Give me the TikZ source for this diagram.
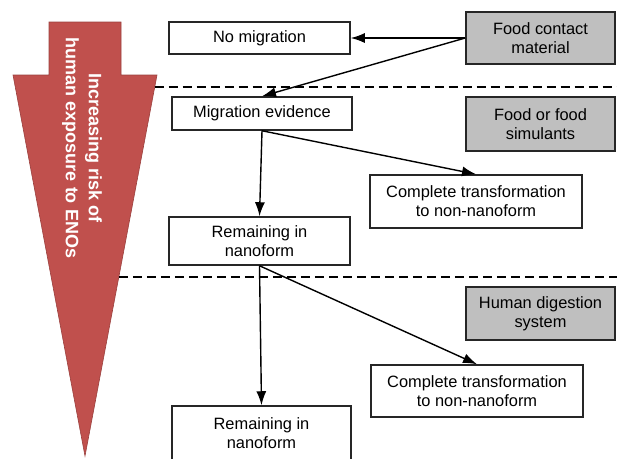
\documentclass[tikz,border=0pt]{standalone}
\usepackage{fontspec}
\setmainfont{Liberation Sans}
\usepackage{xcolor}
\usepackage{tikz}
\usetikzlibrary{arrows.meta}
\usetikzlibrary{positioning}
\definecolor{riskred}{HTML}{C0504D}
\definecolor{stagegray}{HTML}{BFBFBF}
\tikzstyle{outcome} = [rectangle, draw=black!85, line width=1.5pt, fill=white, align=center, inner sep=0pt, font=\fontsize{16.4}{19}\selectfont]
\tikzstyle{stage} = [outcome, fill=stagegray]
\tikzstyle{arrow} = [line width=1.4pt,-{Latex[length=14pt,width=10pt]}]
\tikzstyle{divider} = [line width=1.4pt, dash pattern=on 9pt off 5pt]

\begin{document}
\begin{tikzpicture}[x=1pt,y=-1pt]
    \useasboundingbox (0,0) rectangle (617,458);
    % risk arrow
    \draw[fill=riskred, draw=riskred!80!black, line width=0.6pt] (49,22) -- (121,22) -- (121,75) -- (157,75) -- (85,456) -- (13,75) -- (49,75) -- cycle;
    \node(risk)[rotate=-90, text=white, align=center, font=\bfseries\fontsize{18}{23}\selectfont] at (82,148) {Increasing risk of\\human exposure to ENOs};
    \draw[divider] (154.7,87) -- (617,87);
    \draw[divider] (118.8,277) -- (617,277);
    % stages
    \node(fcm)[stage, minimum width=149pt, minimum height=52pt] at (540.5,38) {Food contact\\material};
    \node(food)[stage, minimum width=149pt, minimum height=54pt] at (540.5,124) {Food or food\\simulants};
    \node(human)[stage, minimum width=149pt, minimum height=53pt] at (540.5,313.5) {Human digestion\\system};
    % outcomes
    \node(nomig)[outcome, minimum width=181pt, minimum height=32pt] at (259.5,38) {No migration};
    \node(migev)[outcome, minimum width=180pt, minimum height=33pt] at (262,113.5) {Migration evidence};
    \node(trans1)[outcome, minimum width=212pt, minimum height=53pt] at (476,201.5) {Complete transformation\\to non-nanoform};
    \node(remain1)[outcome, minimum width=181pt, minimum height=48pt] at (259.5,241) {Remaining in\\nanoform};
    \node(trans2)[outcome, minimum width=212pt, minimum height=52pt] at (477,391) {Complete transformation\\to non-nanoform};
    \node(remain2)[outcome, minimum width=179pt, minimum height=54pt] at (261.5,433) {Remaining in\\nanoform};
    \draw[arrow](fcm.west) -- (nomig.east);
    \draw[arrow](fcm.west) -- (migev.north);
    \draw[arrow](migev.south) -- (remain1.north);
    \draw[arrow](migev.south) -- (trans1.north);
    \draw[arrow](remain1.south) -- (remain2.north);
    \draw[arrow](remain1.south) -- (trans2.north);
\end{tikzpicture}
\end{document}
